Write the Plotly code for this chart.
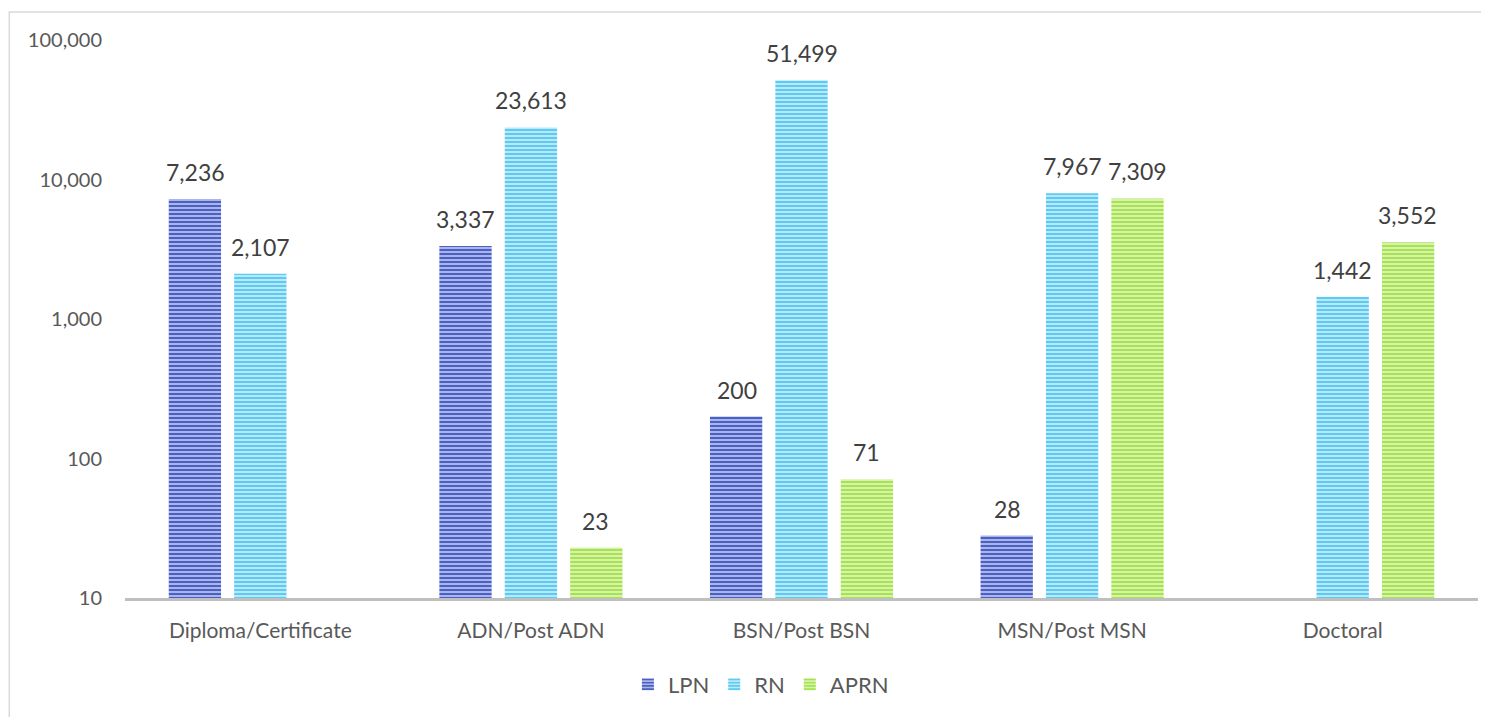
import plotly.graph_objects as go
import math

categories = ["Diploma/Certificate", "ADN/Post ADN", "BSN/Post BSN", "MSN/Post MSN", "Doctoral"]
lpn = [7236, 3337, 200, 28, None]
rn = [2107, 23613, 51499, 7967, 1442]
aprn = [None, 23, 71, 7309, 3552]

tick_vals = [10, 100, 1000, 10000, 100000]
tick_text = ["10", "100", "1,000", "10,000", "100,000"]

series = [
    ("LPN", lpn, "#4a5fc8", "#c4ccef"),
    ("RN", rn, "#5ccbf3", "#d2f0fb"),
    ("APRN", aprn, "#a6e34f", "#e2f6c6"),
]

FONT = "Lato, 'Open Sans', sans-serif"

fig = go.Figure()
for name, vals, fg, bg in series:
    fig.add_trace(go.Bar(
        x=categories,
        y=vals,
        name=name,
        marker=dict(
            color=bg,
            line=dict(width=0),
            pattern=dict(shape="-", fgcolor=fg, bgcolor=bg, size=4, solidity=0.6, fillmode="replace"),
        ),
    ))

# value labels above the bars
shift = {"LPN": -65, "RN": 0, "APRN": 65}
for name, vals, fg, bg in series:
    for cat, v in zip(categories, vals):
        if v is None:
            continue
        fig.add_annotation(
            x=cat, y=math.log10(v), xref="x", yref="y",
            text=f"{v:,}", showarrow=False,
            xshift=shift[name], yshift=27, yanchor="middle",
            font=dict(size=23, color="#404040", family=FONT),
        )

# chart area border (page adds 8px body margin)
fig.add_shape(type="rect", xref="paper", yref="paper",
              x0=-0.0855, x1=1.0134, y0=-0.23, y1=1.0502,
              line=dict(color="#d9d9d9", width=1.5), fillcolor="rgba(0,0,0,0)", layer="below")

fig.update_layout(
    width=1481,
    height=709,
    barmode="group",
    bargap=0.275,
    bargroupgap=0.2,
    paper_bgcolor="white",
    plot_bgcolor="white",
    font=dict(family=FONT, size=20, color="#595959"),
    margin=dict(l=117, r=11, t=32, b=111),
    showlegend=True,
    legend=dict(
        orientation="h",
        x=0.47, xanchor="center",
        y=-0.155, yanchor="middle",
        font=dict(size=22, color="#595959"),
        itemwidth=30,
        traceorder="normal",
    ),
    xaxis=dict(
        showgrid=False,
        showline=True,
        linecolor="#bfbfbf",
        linewidth=3,
        ticks="outside",
        ticklen=12,
        tickcolor="rgba(0,0,0,0)",
        tickfont=dict(size=21, color="#595959"),
    ),
    yaxis=dict(
        type="log",
        range=[1, 5],
        showgrid=False,
        showline=False,
        zeroline=False,
        tickvals=tick_vals,
        ticktext=tick_text,
        ticks="outside",
        ticklen=18,
        tickcolor="rgba(0,0,0,0)",
        tickfont=dict(size=20, color="#595959"),
    ),
)

fig.write_html("out.html")
